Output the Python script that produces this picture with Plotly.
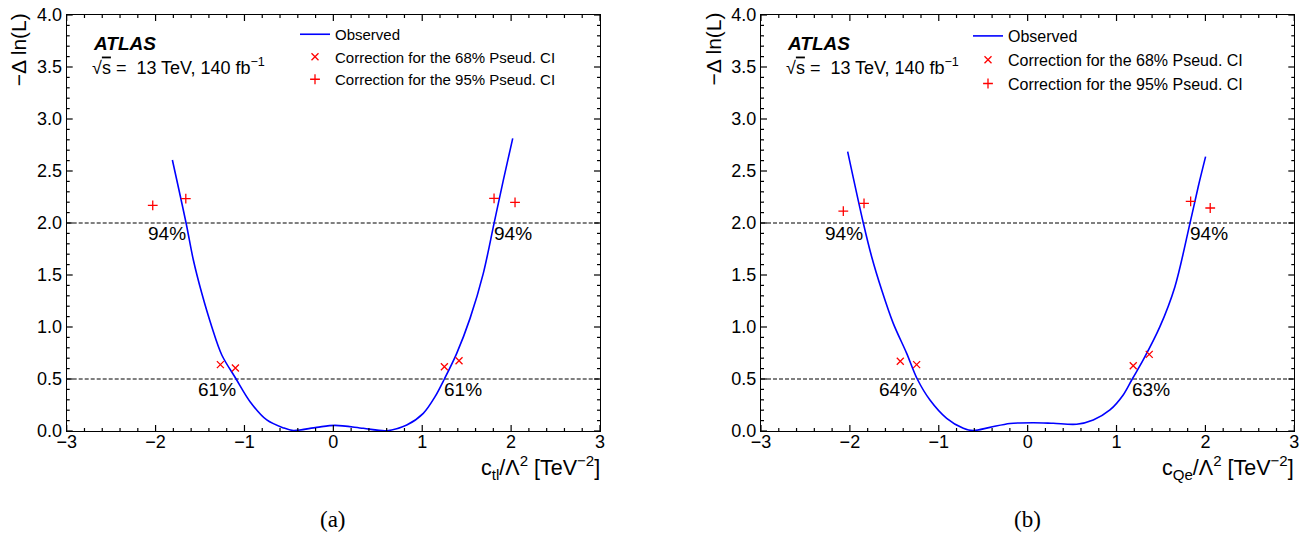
import plotly.graph_objects as go

W, H = 1307, 535

# ---------------- data: panel (a) c_tl ----------------
obs_a_x = [-1.811, -1.657, -1.575, -1.480, -1.368, -1.255, -1.094, -0.937, -0.749, -0.562,
           -0.450, -0.187, 0.019, 0.337, 0.601, 0.826, 1.012, 1.144, 1.249, 1.388,
           1.538, 1.687, 1.808, 1.912, 2.018]
obs_a_y = [2.606, 2.0, 1.644, 1.324, 1.003, 0.731, 0.5, 0.282, 0.106, 0.030,
           0.005, 0.035, 0.054, 0.026, 0.003, 0.058, 0.17, 0.33, 0.5, 0.747,
           1.083, 1.516, 1.997, 2.41, 2.814]
c68_a_x = [-1.271, -1.102, 1.249, 1.414]
c68_a_y = [0.638, 0.606, 0.618, 0.676]
c95_a_x = [-2.032, -1.660, 1.808, 2.044]
c95_a_y = [2.170, 2.234, 2.237, 2.199]
lab_a_text = ["94%", "61%", "61%", "94%"]
lab_a_x = [-1.657, -1.094, 1.249, 1.808]
lab_a_y = [2.0, 0.5, 0.5, 2.0]

# ---------------- data: panel (b) c_Qe ----------------
obs_b_x = [-2.025, -1.849, -1.755, -1.642, -1.512, -1.361, -1.242, -1.099, -0.911, -0.724,
           -0.612, -0.424, -0.199, 0.063, 0.288, 0.551, 0.738, 0.926, 1.075, 1.177,
           1.300, 1.488, 1.657, 1.826, 1.919, 2.002]
obs_b_y = [2.686, 2.0, 1.676, 1.356, 1.035, 0.747, 0.5, 0.298, 0.122, 0.026,
           0.004, 0.035, 0.072, 0.080, 0.074, 0.065, 0.106, 0.202, 0.346, 0.5,
           0.683, 1.003, 1.388, 1.997, 2.349, 2.638]
c68_b_x = [-1.433, -1.249, 1.188, 1.368]
c68_b_y = [0.670, 0.638, 0.628, 0.737]
c95_b_x = [-2.074, -1.841, 1.834, 2.054]
c95_b_y = [2.115, 2.189, 2.208, 2.144]
lab_b_text = ["94%", "64%", "63%", "94%"]
lab_b_x = [-1.849, -1.242, 1.177, 1.826]
lab_b_y = [2.0, 0.5, 0.5, 2.0]

levels = [0.5, 2.0]
x_range = [-3, 3]
y_range = [0, 4]
x_ticks = [-3, -2, -1, 0, 1, 2, 3]
y_ticks = [0.0, 0.5, 1.0, 1.5, 2.0, 2.5, 3.0, 3.5, 4.0]
x_minor_step = 0.2
y_minor_step = 0.1

FONT = "Liberation Sans, Arial, sans-serif"
RED = "#ff0000"
BLUE = "#0000ff"
MAJOR_LEN, MINOR_LEN = 6, 3

fig = go.Figure()

panels = [
    dict(xa="x", ya="y", leg="legend", ox=obs_a_x, oy=obs_a_y, c68x=c68_a_x, c68y=c68_a_y,
         c95x=c95_a_x, c95y=c95_a_y),
    dict(xa="x2", ya="y2", leg="legend2", ox=obs_b_x, oy=obs_b_y, c68x=c68_b_x, c68y=c68_b_y,
         c95x=c95_b_x, c95y=c95_b_y),
]
for p in panels:
    fig.add_trace(go.Scatter(x=p["ox"], y=p["oy"], mode="lines", name="Observed",
                             line=dict(color=BLUE, width=1.6, shape="spline", smoothing=0.9),
                             xaxis=p["xa"], yaxis=p["ya"], legend=p["leg"]))
    fig.add_trace(go.Scatter(x=p["c68x"], y=p["c68y"], mode="markers",
                             name="Correction for the 68% Pseud. CI",
                             marker=dict(symbol="x-thin-open", size=7, color=RED,
                                         line=dict(color=RED, width=1.3)),
                             xaxis=p["xa"], yaxis=p["ya"], legend=p["leg"]))
    fig.add_trace(go.Scatter(x=p["c95x"], y=p["c95y"], mode="markers",
                             name="Correction for the 95% Pseud. CI",
                             marker=dict(symbol="cross-thin-open", size=7, color=RED,
                                         line=dict(color=RED, width=1.3)),
                             xaxis=p["xa"], yaxis=p["ya"], legend=p["leg"]))

# minor tick positions derived from the axis ranges
n_xm = int(round((x_range[1] - x_range[0]) / x_minor_step))
n_ym = int(round((y_range[1] - y_range[0]) / y_minor_step))
x_minor = [round(x_range[0] + i * x_minor_step, 3) for i in range(n_xm + 1)]
y_minor = [round(y_range[0] + i * y_minor_step, 3) for i in range(n_ym + 1)]

tick_line = dict(color="black", width=1.2)
for xa, ya in [("x", "y"), ("x2", "y2")]:
    # dashed reference lines
    for lv in levels:
        fig.add_shape(type="line", xref=f"{xa} domain", yref=ya, x0=0, x1=1, y0=lv, y1=lv,
                      line=dict(color="black", width=1, dash="4px,2px"), layer="below")
    # inward ticks on all four sides (x)
    for t in x_minor:
        L = MAJOR_LEN if any(abs(t - m) < 1e-9 for m in x_ticks) else MINOR_LEN
        for anc, sgn in [(0, 1), (1, -1)]:
            fig.add_shape(type="line", xref=xa, yref=f"{ya} domain", x0=t, x1=t,
                          ysizemode="pixel", yanchor=anc, y0=0, y1=sgn * L,
                          line=tick_line, layer="above")
    # inward ticks on all four sides (y)
    for t in y_minor:
        L = MAJOR_LEN if any(abs(t - m) < 1e-9 for m in y_ticks) else MINOR_LEN
        for anc, sgn in [(0, 1), (1, -1)]:
            fig.add_shape(type="line", xref=f"{xa} domain", yref=ya, y0=t, y1=t,
                          xsizemode="pixel", xanchor=anc, x0=0, x1=sgn * L,
                          line=tick_line, layer="above")

annotations = []
for xa, ya, texts, xs, ys in [("x", "y", lab_a_text, lab_a_x, lab_a_y),
                              ("x2", "y2", lab_b_text, lab_b_x, lab_b_y)]:
    for t, xv, yv in zip(texts, xs, ys):
        annotations.append(dict(text=t, x=xv, y=yv, xref=xa, yref=ya, showarrow=False,
                                xanchor="right" if xv < 0 else "left", yanchor="top",
                                font=dict(family=FONT, size=19, color="black"),
                                borderpad=0, borderwidth=0))


def make_axis(rng, vals, fmt=None, standoff=0):
    d = dict(range=rng, tickmode="array", tickvals=vals, ticks="", showline=True,
             linecolor="#000000", linewidth=1.2, mirror=True, showgrid=False,
             zeroline=False, automargin=False, ticklabelstandoff=standoff,
             tickfont=dict(family=FONT, size=18, color="black"))
    if fmt:
        d["tickformat"] = fmt
    return d


xa_dom = [66.7 / W, 600 / W]
xb_dom = [761 / W, 1294.3 / W]
y_dom = [(H - 431) / H, (H - 15) / H]

for left_px, right_px, xtitle, cap in [
        (66.7, 600, "c<sub>tl</sub>/Λ<sup>2</sup> [TeV<sup>−2</sup>]", "(a)"),
        (761, 1294.3, "c<sub>Qe</sub>/Λ<sup>2</sup> [TeV<sup>−2</sup>]", "(b)")]:
    annotations.append(dict(text="<b><i>ATLAS</i></b>", x=(left_px + 26) / W, y=(H - 44) / H,
                            xref="paper", yref="paper", xanchor="left", yanchor="middle",
                            showarrow=False, borderpad=0, borderwidth=0,
                            font=dict(family=FONT, size=19, color="black")))
    annotations.append(dict(text="√<span style='text-decoration:overline'>s</span> =  13 TeV, 140 fb<sup>−1</sup>",
                            x=(left_px + 25) / W, y=(H - 66) / H,
                            xref="paper", yref="paper", xanchor="left", yanchor="middle",
                            showarrow=False, borderpad=0, borderwidth=0,
                            font=dict(family=FONT, size=18, color="black")))
    annotations.append(dict(text="−Δ ln(L)", x=(left_px - 48) / W, y=(H - 13) / H,
                            xref="paper", yref="paper", xanchor="center", yanchor="top",
                            textangle=-90, showarrow=False, borderpad=0, borderwidth=0,
                            font=dict(family=FONT, size=21, color="black")))
    annotations.append(dict(text=xtitle, x=right_px / W, y=(H - 467) / H,
                            xref="paper", yref="paper", xanchor="right", yanchor="middle",
                            showarrow=False, borderpad=0, borderwidth=0,
                            font=dict(family=FONT, size=21.5, color="black")))
    annotations.append(dict(text=cap, x=(left_px + right_px) / 2 / W, y=(H - 519) / H,
                            xref="paper", yref="paper", xanchor="center", yanchor="middle",
                            showarrow=False, borderpad=0, borderwidth=0,
                            font=dict(family="Liberation Serif, Times New Roman, serif",
                                      size=23, color="black")))

fig.update_layout(
    template="none",
    width=W, height=H, autosize=False,
    margin=dict(l=0, r=0, t=0, b=0, pad=0),
    paper_bgcolor="white", plot_bgcolor="white",
    font=dict(family=FONT, color="black"),
    xaxis=dict(domain=xa_dom, anchor="y", **make_axis(x_range, x_ticks, standoff=-6)),
    yaxis=dict(domain=y_dom, anchor="x", **make_axis(y_range, y_ticks, ".1f")),
    xaxis2=dict(domain=xb_dom, anchor="y2", **make_axis(x_range, x_ticks, standoff=-6)),
    yaxis2=dict(domain=y_dom, anchor="x2", **make_axis(y_range, y_ticks, ".1f")),
    legend=dict(x=295 / W, y=(H - 18) / H, xanchor="left", yanchor="top",
                bgcolor="rgba(0,0,0,0)", borderwidth=0,
                font=dict(family=FONT, size=15, color="black")),
    legend2=dict(x=968 / W, y=(H - 19) / H, xanchor="left", yanchor="top",
                 bgcolor="rgba(0,0,0,0)", borderwidth=0,
                 font=dict(family=FONT, size=16, color="black")),
    annotations=annotations,
    showlegend=True,
)

fig.write_html("out.html", config={"displayModeBar": False},
               post_script="document.body.style.margin='0';")
